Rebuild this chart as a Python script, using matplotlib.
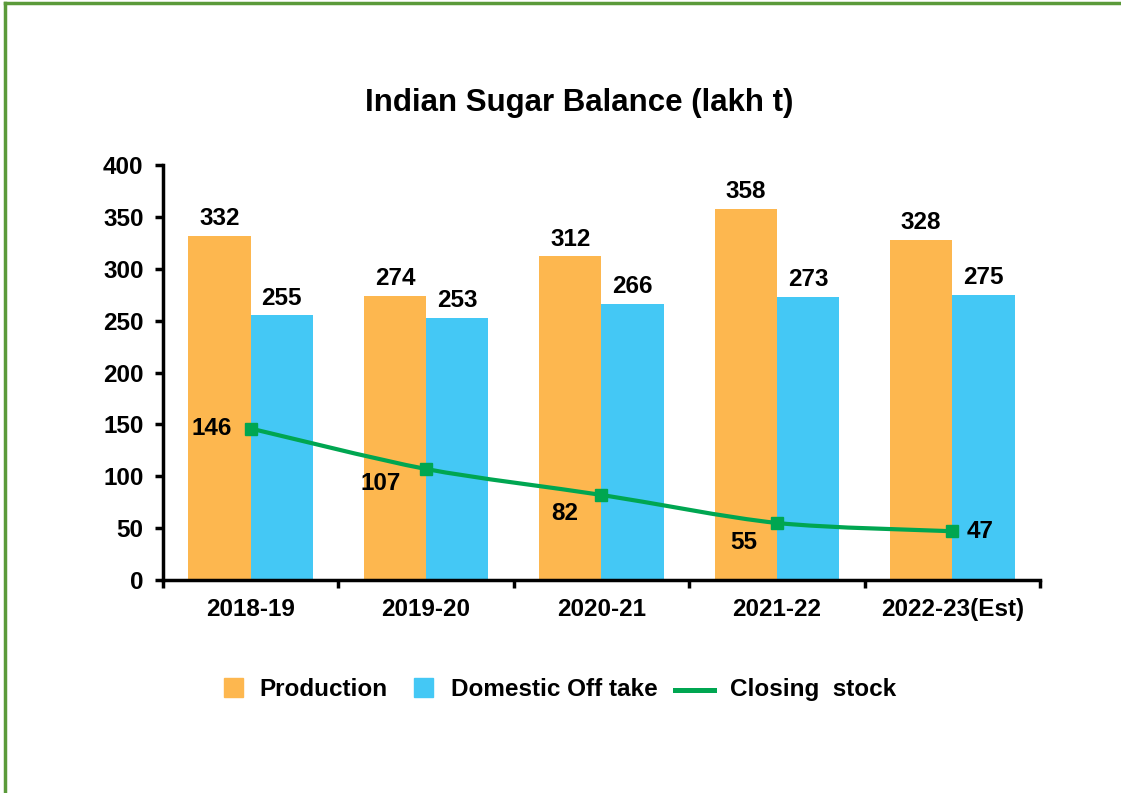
import matplotlib
matplotlib.use("Agg")
import matplotlib.pyplot as plt
from matplotlib.path import Path
from matplotlib.patches import PathPatch, Rectangle
from matplotlib.lines import Line2D
import numpy as np

categories = ["2018-19", "2019-20", "2020-21", "2021-22", "2022-23(Est)"]
production = [332, 274, 312, 358, 328]
domestic_offtake = [255, 253, 266, 273, 275]
closing_stock = [146, 107, 82, 55, 47]
y_ticks = [0, 50, 100, 150, 200, 250, 300, 350, 400]
legend_labels = ["Production", "Domestic Off take", "Closing  stock"]

C_PROD = "#FDB74F"
C_DOM = "#44C8F5"
C_LINE = "#00A651"
FS = 17.5
W, H = 1121, 793

plt.rcParams["font.family"] = ["Liberation Sans", "DejaVu Sans"]
plt.rcParams["font.weight"] = "bold"

fig = plt.figure(figsize=(W / 100, H / 100), dpi=100)
ax = fig.add_axes([0.1454, 0.2686, 0.7823, 0.5233])

x = np.arange(len(categories))
w = 0.355
ax.bar(x - w / 2, production, width=w, color=C_PROD, zorder=2)
ax.bar(x + w / 2, domestic_offtake, width=w, color=C_DOM, zorder=2)

for xi, v in zip(x, production):
    ax.annotate(str(v), (xi - w / 2, v), xytext=(0, 4), textcoords="offset points",
                ha="center", va="bottom", fontsize=FS, fontweight="bold")
for xi, v in zip(x, domestic_offtake):
    ax.annotate(str(v), (xi + w / 2, v), xytext=(0, 4), textcoords="offset points",
                ha="center", va="bottom", fontsize=FS, fontweight="bold")

# smoothed line through the data points
pts = np.column_stack([x.astype(float), np.array(closing_stock, dtype=float)])
verts = [tuple(pts[0])]
codes = [Path.MOVETO]
n = len(pts)
k = 7.0
for i in range(n - 1):
    p0 = pts[max(i - 1, 0)]
    p1 = pts[i]
    p2 = pts[i + 1]
    p3 = pts[min(i + 2, n - 1)]
    c1 = p1 + (p2 - p0) / k
    c2 = p2 - (p3 - p1) / k
    verts += [tuple(c1), tuple(c2), tuple(p2)]
    codes += [Path.CURVE4] * 3
ax.add_patch(PathPatch(Path(verts, codes), facecolor="none", edgecolor=C_LINE,
                       lw=3, zorder=3, capstyle="round"))
ax.plot(x, closing_stock, linestyle="none", marker="s", markersize=8,
        color=C_LINE, zorder=4)

# label offsets in pixels (dx, dy down), alignment
px = 0.72
offsets = [(-19, 0, "right"), (-25, 15, "right"), (-23, 19, "right"),
           (-20, 20, "right"), (14, 0, "left")]
for xi, v, (dx, dy, ha) in zip(x, closing_stock, offsets):
    ax.annotate(str(v), (xi, v), xytext=(dx * px, -dy * px), textcoords="offset points",
                ha=ha, va="center", fontsize=FS, fontweight="bold", zorder=5)

ax.set_xlim(-0.5, len(categories) - 0.5)
ax.set_ylim(0, 400)
ax.set_yticks(y_ticks)
ax.set_yticklabels([str(t) for t in y_ticks], fontsize=FS, fontweight="bold")
ax.set_xticks(np.arange(len(categories) + 1) - 0.5)
ax.set_xticklabels([])
ax.set_xticks(x, minor=True)
ax.set_xticklabels(categories, minor=True, fontsize=FS, fontweight="bold")
ax.tick_params(axis="x", which="major", direction="out", length=6, width=2.5)
ax.tick_params(axis="x", which="minor", length=0, pad=13)
ax.tick_params(axis="y", direction="out", length=6, width=2.5, pad=8)
for s in ["top", "right"]:
    ax.spines[s].set_visible(False)
for s in ["left", "bottom"]:
    ax.spines[s].set_linewidth(2.5)
    ax.spines[s].set_color("black")

fig.text(0.517, 1 - 103 / H, "Indian Sugar Balance (lakh t)", ha="center", va="center",
         fontsize=22.5, fontweight="bold")

# legend, placed by hand in figure pixels
def fx(p):
    return p / W

def fy(p):
    return 1 - p / H

fig.add_artist(Rectangle((fx(224), fy(697)), fx(243) - fx(224), fy(678) - fy(697),
                         color=C_PROD, transform=fig.transFigure))
fig.add_artist(Rectangle((fx(414), fy(697)), fx(433) - fx(414), fy(678) - fy(697),
                         color=C_DOM, transform=fig.transFigure))
fig.add_artist(Line2D([fx(675), fx(714)], [fy(689.5), fy(689.5)], color=C_LINE, lw=3.6,
                      transform=fig.transFigure))
for xpos, lab in zip([259, 451, 730], legend_labels):
    fig.text(fx(xpos), fy(696), lab, ha="left", va="baseline", fontsize=FS, fontweight="bold")

# green border (left and top)
fig.add_artist(Line2D([fx(5), fx(5)], [0, fy(3)], color="#5B9A3A", lw=2.5,
                      transform=fig.transFigure))
fig.add_artist(Line2D([fx(5), 1], [fy(3), fy(3)], color="#5B9A3A", lw=2.5,
                      transform=fig.transFigure))

fig.savefig("out.png", dpi=100)
